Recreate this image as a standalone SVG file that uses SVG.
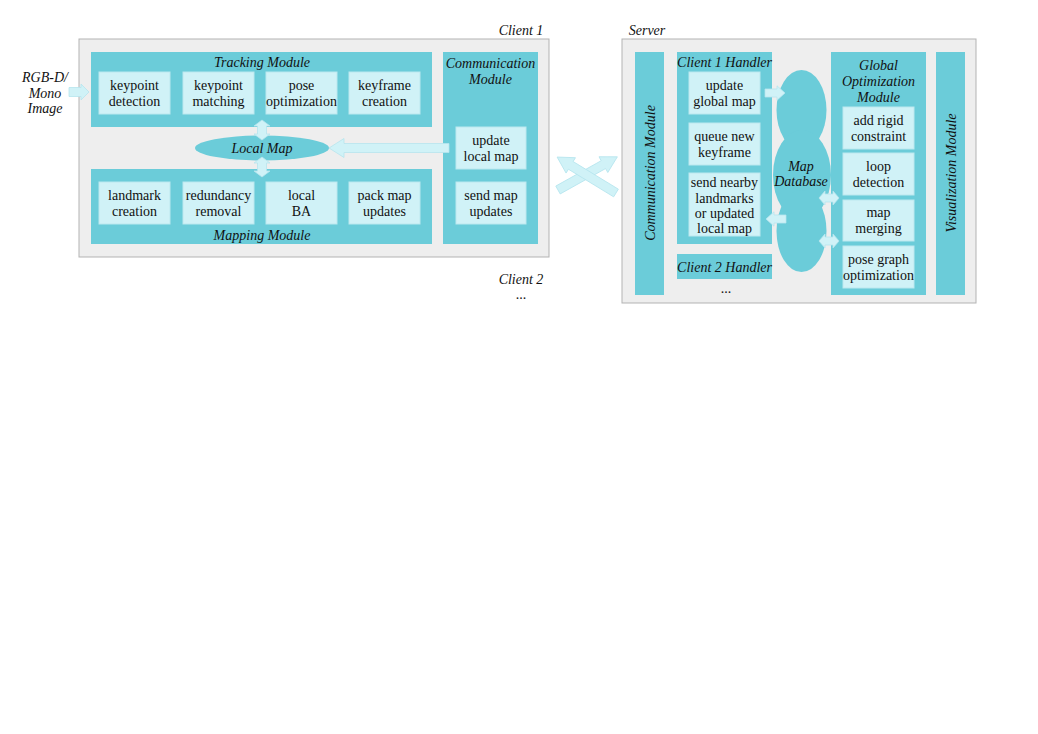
<svg xmlns="http://www.w3.org/2000/svg" width="1038" height="734" viewBox="0 0 1038 734">
<style>
text{font-family:"Liberation Serif","Times New Roman",serif;font-size:14px;fill:#111;text-anchor:middle}
.it{font-style:italic}
.outer{fill:#eeeeee;stroke:#b3b3b3;stroke-width:1}
.mod{fill:#6bccd9}
.box{fill:#d0f2f7;stroke:#bce8ef;stroke-width:1}
.arr{fill:#d0f2f7;stroke:#b6e5ee;stroke-width:0.8}
.db{fill:#6bccd9}
</style>
<defs>
<path id="rarr" d="M0,-4.5 H12 V-8 L20,0 L12,8 V4.5 H0 Z"/>
<path id="darr" d="M0,0 L6,-7 V-4 H14 V-7 L20,0 L14,7 V4 H6 V7 Z"/>
</defs>
<rect width="1038" height="734" fill="#ffffff"/>

<g id="client1">
<rect class="outer" x="79" y="39" width="470" height="218"/>
<text class="it" x="521" y="35">Client 1</text>
</g>
<g id="client2">
<text class="it" x="521" y="284">Client 2</text>
<text x="521" y="299">...</text>
</g>
<g id="input">
<text class="it" x="45" y="82">RGB-D/</text>
<text class="it" x="45" y="98">Mono</text>
<text class="it" x="45" y="113">Image</text>
</g>

<g id="tracking">
<rect class="mod" x="91" y="52" width="341" height="75"/>
<text class="it" x="262" y="67">Tracking Module</text>
<g id="kpdet"><rect class="box" x="99" y="72" width="71" height="42"/><text x="134.5" y="90">keypoint</text><text x="134.5" y="106">detection</text></g>
<g id="kpmatch"><rect class="box" x="183" y="72" width="71" height="42"/><text x="218.5" y="90">keypoint</text><text x="218.5" y="106">matching</text></g>
<g id="poseopt"><rect class="box" x="266" y="72" width="71" height="42"/><text x="301.5" y="90">pose</text><text x="301.5" y="106">optimization</text></g>
<g id="kfcreate"><rect class="box" x="349" y="72" width="71" height="42"/><text x="384.5" y="90">keyframe</text><text x="384.5" y="106">creation</text></g>
</g>

<g id="localmap">
<ellipse class="mod" cx="262" cy="148" rx="67" ry="12.5"/>
<text class="it" x="262" y="153">Local Map</text>
</g>

<g id="mapping">
<rect class="mod" x="91" y="169" width="341" height="75"/>
<text class="it" x="262" y="240">Mapping Module</text>
<g id="lmcreate"><rect class="box" x="99" y="182" width="71" height="42"/><text x="134.5" y="200">landmark</text><text x="134.5" y="216">creation</text></g>
<g id="redund"><rect class="box" x="183" y="182" width="71" height="42"/><text x="218.5" y="200">redundancy</text><text x="218.5" y="216">removal</text></g>
<g id="localba"><rect class="box" x="266" y="182" width="71" height="42"/><text x="301.5" y="200">local</text><text x="301.5" y="216">BA</text></g>
<g id="packmap"><rect class="box" x="349" y="182" width="71" height="42"/><text x="384.5" y="200">pack map</text><text x="384.5" y="216">updates</text></g>
</g>

<g id="clientcomm">
<rect class="mod" x="443" y="52" width="95" height="192"/>
<text class="it" x="490.5" y="68">Communication</text>
<text class="it" x="490.5" y="84">Module</text>
<g id="updlocal"><rect class="box" x="456" y="127" width="70" height="42"/><text x="491" y="145">update</text><text x="491" y="161">local map</text></g>
<g id="sendupd"><rect class="box" x="456" y="182" width="70" height="42"/><text x="491" y="200">send map</text><text x="491" y="216">updates</text></g>
</g>

<g id="server">
<rect class="outer" x="622" y="39" width="354" height="264"/>
<text class="it" x="647" y="35">Server</text>
</g>

<g id="servercomm">
<rect class="mod" x="635" y="52" width="29" height="243"/>
<text class="it" transform="translate(655,173) rotate(-90)">Communication Module</text>
</g>

<g id="handler1">
<rect class="mod" x="677" y="52" width="95" height="192"/>
<text class="it" x="724.5" y="67">Client 1 Handler</text>
<g id="updglobal"><rect class="box" x="689" y="72" width="71" height="42"/><text x="724.5" y="90">update</text><text x="724.5" y="106">global map</text></g>
<g id="queuekf"><rect class="box" x="689" y="123" width="71" height="42"/><text x="724.5" y="141">queue new</text><text x="724.5" y="157">keyframe</text></g>
<g id="sendnear"><rect class="box" x="689" y="173" width="71" height="63"/><text x="724.5" y="187">send nearby</text><text x="724.5" y="203">landmarks</text><text x="724.5" y="218">or updated</text><text x="724.5" y="233">local map</text></g>
</g>

<g id="handler2">
<rect class="mod" x="677" y="254" width="95" height="25"/>
<text class="it" x="724.5" y="272">Client 2 Handler</text>
<text x="726" y="293">...</text>
</g>

<g id="mapdb">
<ellipse class="db" cx="801.5" cy="110" rx="25" ry="40"/>
<ellipse class="db" cx="802" cy="175" rx="29" ry="45"/>
<ellipse class="db" cx="801.5" cy="231" rx="25" ry="41"/>
<text class="it" x="801" y="171">Map</text>
<text class="it" x="801" y="186">Database</text>
</g>

<g id="globalopt">
<rect class="mod" x="831" y="52" width="95" height="243"/>
<text class="it" x="878.5" y="70">Global</text>
<text class="it" x="878.5" y="86">Optimization</text>
<text class="it" x="878.5" y="102">Module</text>
<g id="rigid"><rect class="box" x="843" y="107" width="71" height="42"/><text x="878.5" y="125">add rigid</text><text x="878.5" y="141">constraint</text></g>
<g id="loop"><rect class="box" x="843" y="153" width="71" height="42"/><text x="878.5" y="171">loop</text><text x="878.5" y="187">detection</text></g>
<g id="merge"><rect class="box" x="843" y="200" width="71" height="41"/><text x="878.5" y="217">map</text><text x="878.5" y="233">merging</text></g>
<g id="pgo"><rect class="box" x="843" y="246" width="71" height="42"/><text x="878.5" y="264">pose graph</text><text x="878.5" y="280">optimization</text></g>
</g>

<g id="vis">
<rect class="mod" x="936" y="52" width="29" height="243"/>
<text class="it" transform="translate(956,173) rotate(-90)">Visualization Module</text>
</g>

<g id="connectors">
<use href="#rarr" class="arr" transform="translate(69,92)"/>
<path class="arr" d="M449,143.5 H344 V138.5 L329,148 L344,157.5 V152.5 H449 Z"/>
<path class="arr" d="M262,120 L270,126 H266.5 V134 H270 L262,140 L254,134 H257.5 V126 H254 Z"/>
<path class="arr" d="M262,157 L270,163 H266.5 V171 H270 L262,177 L254,171 H257.5 V163 H254 Z"/>
<path class="arr" d="M0,-4.5 H52 V-9 L68,0 L52,9 V4.5 H0 Z" transform="translate(558,190) rotate(-29.2)"/>
<path class="arr" d="M0,-4.5 H53 V-9 L69,0 L53,9 V4.5 H0 Z" transform="translate(616,193) rotate(-148.6)"/>
<use href="#rarr" class="arr" transform="translate(765,93) scale(1,0.9)"/>
<use href="#rarr" class="arr" transform="translate(786,219) rotate(180) scale(1,0.9)"/>
<use href="#darr" class="arr" transform="translate(819,198)"/>
<use href="#darr" class="arr" transform="translate(819,241)"/>
</g>
</svg>
